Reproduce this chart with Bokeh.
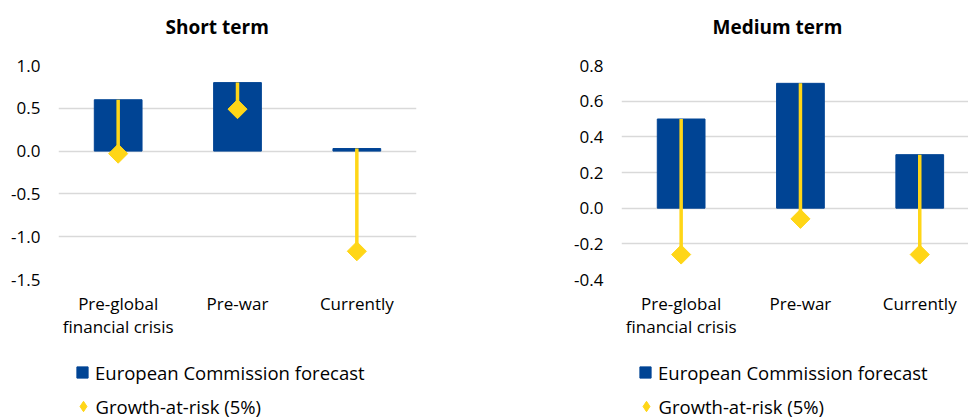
import math
from bokeh.plotting import figure
from bokeh.models import (Range1d, FixedTicker, PrintfTickFormatter, Legend,
                          LegendItem, ColumnDataSource)
from bokeh.layouts import row, column
from bokeh.embed import file_html
from bokeh.resources import INLINE

# ---- data ----
categories = ["Pre-global\nfinancial crisis", "Pre-war", "Currently"]
cat_pos = [0.5, 1.5, 2.5]

short_forecast = [0.6, 0.8, 0.03]
short_gar = [-0.03, 0.49, -1.17]
short_ticks = [-1.5, -1.0, -0.5, 0.0, 0.5, 1.0]

medium_forecast = [0.5, 0.7, 0.3]
medium_gar = [-0.26, -0.06, -0.26]
medium_ticks = [-0.4, -0.2, 0.0, 0.2, 0.4, 0.6, 0.8]

legend_labels = ["European Commission forecast", "Growth-at-risk (5%)"]
titles = ["Short term", "Medium term"]

BLUE = "#004494"
YELLOW = "#FFD617"
GRID = "#D9D9D9"
FONT = "Open Sans"


def draw_marks(p, src, legend_marker=False):
    bars = p.vbar(x="x", top="fc", bottom=0, width=0.4, source=src,
                  fill_color=BLUE, line_color=BLUE)
    p.segment(x0="x", y0="fc", x1="x", y1="gar", source=src,
              line_color=YELLOW, line_width=3.5)
    if legend_marker:
        dia = p.scatter(x="x", y="gar", source=src, marker="diamond",
                        size=14, fill_color=YELLOW, line_color=YELLOW)
    else:
        dia = p.scatter(x="x", y="gar", source=src, marker="square",
                        angle=math.pi / 4, size=13.5,
                        fill_color=YELLOW, line_color=YELLOW)
    return bars, dia


def make_panel(title, forecast, gar, ticks, x_end, width, b_left, b_right,
               title_offset):
    src = ColumnDataSource(dict(x=cat_pos, fc=forecast, gar=gar))
    p = figure(width=width, height=340, output_backend="svg",
               toolbar_location=None,
               x_range=Range1d(0, x_end),
               y_range=Range1d(ticks[0], ticks[-1]),
               min_border_left=b_left, min_border_right=b_right,
               min_border_top=65, min_border_bottom=60)
    p.outline_line_color = None

    # title (a trailing empty line lifts it away from the frame)
    p.title.text = title + "\n"
    p.title.align = "left"
    p.title.offset = title_offset
    p.title.text_font = FONT
    p.title.text_font_size = "19px"
    p.title.text_font_style = "bold"
    p.title.text_color = "black"
    p.title.text_line_height = 1.0
    p.title.standoff = 0

    draw_marks(p, src)

    # axes
    p.yaxis.ticker = FixedTicker(ticks=ticks)
    p.yaxis.formatter = PrintfTickFormatter(format="%.1f")
    p.yaxis.axis_line_color = None
    p.yaxis.major_tick_line_color = None
    p.yaxis.minor_tick_line_color = None
    p.yaxis.major_tick_out = 0
    p.yaxis.major_label_standoff = 18
    p.yaxis.major_label_text_font = FONT
    p.yaxis.major_label_text_font_size = "17px"
    p.yaxis.major_label_text_color = "black"

    p.xaxis.ticker = FixedTicker(ticks=cat_pos)
    p.xaxis.major_label_overrides = {pos: lab for pos, lab in zip(cat_pos, categories)}
    p.xaxis.axis_line_color = None
    p.xaxis.major_tick_line_color = None
    p.xaxis.minor_tick_line_color = None
    p.xaxis.major_tick_out = 0
    p.xaxis.major_label_standoff = 12
    p.xaxis.major_label_text_font = FONT
    p.xaxis.major_label_text_font_size = "17px"
    p.xaxis.major_label_text_line_height = 1.0
    p.xaxis.major_label_text_color = "black"

    p.xgrid.grid_line_color = None
    p.ygrid.ticker = FixedTicker(ticks=ticks)
    p.ygrid.grid_line_color = GRID
    p.ygrid.grid_line_width = 1.5

    # legend strip below the chart (its frame is aligned with the chart's)
    lg = figure(width=width, height=78, output_backend="svg",
                toolbar_location=None, x_range=Range1d(100, 101),
                y_range=Range1d(100, 101), min_border=0,
                x_axis_location=None, y_axis_location=None)
    lg.outline_line_color = None
    lg.grid.grid_line_color = None
    bars, dia = draw_marks(lg, src, legend_marker=True)
    common = dict(orientation="vertical", padding=0, margin=0,
                  border_line_color=None, background_fill_alpha=0,
                  label_text_font=FONT, label_text_font_size="18.5px",
                  label_text_color="black")
    leg_a = Legend(items=[LegendItem(label=legend_labels[0], renderers=[bars])],
                   location=(17, 33.5), glyph_width=14, glyph_height=14,
                   label_height=25, label_standoff=6, **common)
    leg_b = Legend(items=[LegendItem(label=legend_labels[1], renderers=[dia])],
                   location=(11.5, -2), glyph_width=26, glyph_height=28,
                   label_height=28, label_standoff=0, **common)
    lg.add_layout(leg_a, "center")
    lg.add_layout(leg_b, "center")
    return column(p, lg, spacing=0)


left = make_panel(titles[0], short_forecast, short_gar, short_ticks,
                  3.0, 484, 58, 68, 107)
right = make_panel(titles[1], medium_forecast, medium_gar, medium_ticks,
                   347 / 119.3, 484, 137, 0, 91)

layout = row(left, right, spacing=0)
open("out.html", "w").write(file_html(layout, INLINE))
